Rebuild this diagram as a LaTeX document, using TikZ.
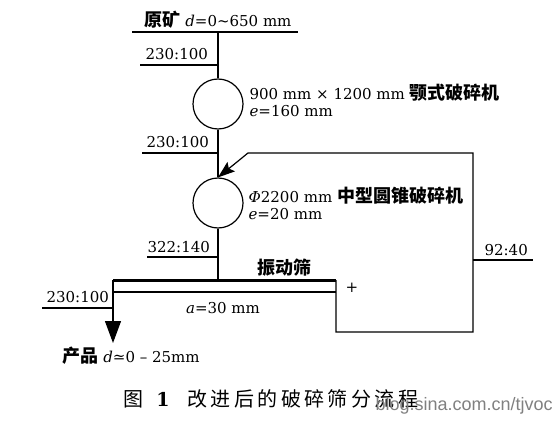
\documentclass[tikz,border=0pt]{standalone}
\usepackage{fontspec}
\setmainfont{DejaVu Serif}
\newfontfamily\cjk{Noto Sans CJK SC}
\newfontfamily\cjkcap{Noto Sans CJK SC}[LetterSpace=17]
\newfontfamily\wmark{Liberation Sans}
\newcommand{\zhb}[1]{{\cjk\bfseries\fontsize{18}{20}\selectfont #1}}
\usetikzlibrary{arrows.meta}

\begin{document}
\begin{tikzpicture}[
    x=1pt, y=-1pt,
    line width=1.2pt,
    crusher/.style={
        draw, circle, inner sep=0pt, minimum size=50pt
    },
    lbl/.style={
        inner sep=0pt, anchor=base west, font=\fontsize{15}{17}\selectfont
    },
    captxt/.style={
        inner sep=0pt, font=\fontsize{20}{22}\selectfont\cjkcap
    },
    feedarrow/.style={
        -{Stealth[length=17pt, width=12pt, inset=3pt]}
    },
    prodarrow/.style={
        -{Triangle[length=22pt, width=16pt]}
    },
]
    \useasboundingbox (0,0) rectangle (556,422);

    \node[crusher] (jaw) at (218,104) {};
    \node[crusher] (cone) at (218,203) {};

    \coordinate (oreL) at (132,32);
    \coordinate (oreR) at (298,32);
    \coordinate (oreM) at (218,32);
    \coordinate (s1) at (218,65);
    \coordinate (s1L) at (140,65);
    \coordinate (s2) at (218,153);
    \coordinate (s2L) at (142,153);
    \coordinate (s3) at (218,257);
    \coordinate (s3L) at (147,257);
    \coordinate (scrL) at (113,280);
    \coordinate (scrM) at (218,280);
    \coordinate (scrR) at (336,280);
    \coordinate (scrBL) at (113,292);
    \coordinate (scrBR) at (336,292);
    \coordinate (s4) at (113,308);
    \coordinate (s4L) at (42,308);
    \coordinate (prod) at (113,343);
    \coordinate (retC) at (336,332);
    \coordinate (retB) at (473,332);
    \coordinate (retT) at (473,153);
    \coordinate (retL) at (248,153);
    \coordinate (s5) at (473,260);
    \coordinate (s5R) at (533,260);

    \draw (oreL) -- (oreR);
    \draw (oreM) -- (jaw);
    \draw (s1L) -- (s1);
    \draw (jaw) -- (cone);
    \draw (s2L) -- (s2);
    \draw (cone) -- (scrM);
    \draw (s3L) -- (s3);
    \draw[line width=3pt] (scrL) -- (scrR);
    \draw (scrBL) -- (scrBR);
    \draw[prodarrow] (scrL) -- (prod);
    \draw (s4L) -- (s4);
    \draw[feedarrow] (scrR) -- (retC) -- (retB) -- (retT) -- (retL) -- (cone.north);
    \draw (s5) -- (s5R);

    \node[lbl] (ore) at (144,27) {\zhb{原矿} \textit{d}=0\char"007E 650 mm};
    \node[lbl] (r1) at (145,60) {230:100};
    \node[lbl] (jaw1) at (249,100) {900 mm × 1200 mm \zhb{颚式破碎机}};
    \node[lbl] (jaw2) at (249,117) {\textit{e}=160 mm};
    \node[lbl] (r2) at (146,148) {230:100};
    \node[lbl] (cone1) at (248,202) {\textit{Φ}2200 mm \zhb{中型圆锥破碎机}};
    \node[lbl] (cone2) at (248,219) {\textit{e}=20 mm};
    \node[lbl] (r3) at (147,252) {322:140};
    \node[lbl] (r5) at (484,255) {92:40};
    \node (scr) at (284,268) {\zhb{振动筛}};
    \node[lbl, anchor=center] (plus) at (352,288) {+};
    \node[lbl, anchor=center] (mesh) at (223,308) {\textit{a}=30 mm};
    \node[lbl] (r4) at (46,302) {230:100};
    \node[lbl] (prodlbl) at (62,362) {\zhb{产品} \textit{d}≃0 – 25mm};

    \node[captxt] (fig) at (133,399) {图};
    \node[captxt, font=\fontsize{19}{22}\selectfont\bfseries] (fignum) at (163,399) {1};
    \node[captxt, anchor=west] (title) at (187,399) {改进后的破碎筛分流程};
    \node[inner sep=0pt, anchor=base west, text=black!50, font=\fontsize{18}{20}\selectfont\wmark] (wm) at (375,410) {blog.sina.com.cn/tjvoc};

\end{tikzpicture}
\end{document}
